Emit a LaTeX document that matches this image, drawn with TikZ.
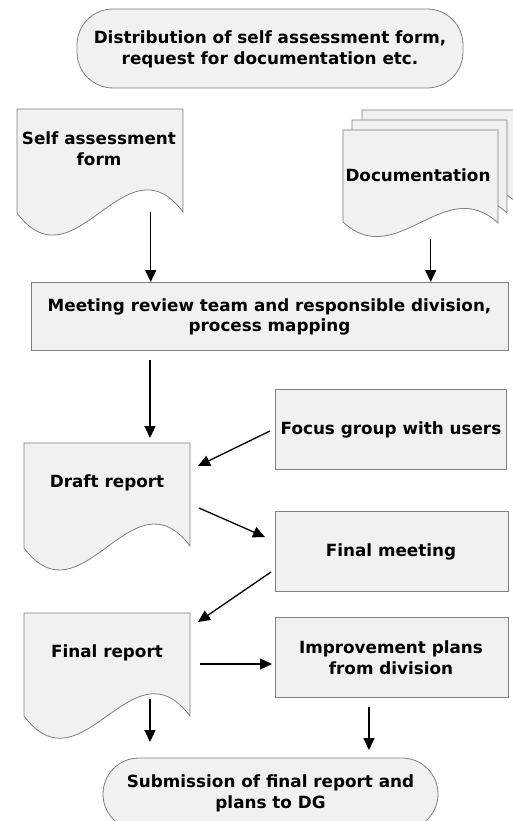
\documentclass[tikz,border=0pt]{standalone}
\usepackage{fontspec}
\setmainfont{DejaVu Sans}
\usetikzlibrary{arrows.meta}
\definecolor{shapefill}{HTML}{F1F1F1}
\definecolor{shapeline}{HTML}{7F7F7F}
\tikzset{
  shapestyle/.style={fill=shapefill, draw=shapeline, line width=0.8pt},
  box/.style={shapestyle, rectangle, inner sep=0pt},
  term/.style={shapestyle, rectangle, rounded corners=36pt, inner sep=0pt},
  lbl/.style={align=center, font=\fontsize{16.8}{20.8}\selectfont\bfseries, inner sep=0pt},
  flow/.style={line width=1.3pt, -{Triangle[length=12pt,width=11pt]}}
}
\begin{document}
\begin{tikzpicture}[x=1pt,y=-1pt]
\useasboundingbox (0,0) rectangle (513,821);
% top terminal
\node[term, minimum width=386pt, minimum height=79pt] (start) at (270,48.5) {};
\node[lbl] (starttext) at (270,49) {Distribution of self assessment form,\\request for documentation etc.};
% self assessment form (document)
\filldraw[shapestyle] (17,109) -- (183,109) -- (183,212) .. controls (125,135) and (75,290) .. (17,213) -- cycle;
\node[lbl] (self) at (99,149) {Self assessment\\form};
% documentation (multi-document)
\filldraw[shapestyle] (362,110) -- (517,110) -- (517,203) .. controls (463,153) and (416,252) .. (362,202) -- cycle;
\filldraw[shapestyle] (352,120) -- (507,120) -- (507,213) .. controls (453,163) and (406,262) .. (352,212) -- cycle;
\filldraw[shapestyle] (343,130) -- (498,130) -- (498,223) .. controls (444,173) and (397,272) .. (343,222) -- cycle;
\node[lbl] (doc) at (418,175) {Documentation};
% meeting
\node[box, minimum width=477pt, minimum height=68pt] (meet) at (269.5,316) {};
\node[lbl] (meettext) at (269.5,317) {Meeting review team and responsible division,\\process mapping};
% focus group
\node[box, minimum width=231pt, minimum height=80pt] (focus) at (390.5,429) {};
\node[lbl] (focustext) at (391,430) {Focus group with users};
% draft report
\filldraw[shapestyle] (24,443) -- (190,443) -- (190,546) .. controls (132,469) and (82,625) .. (24,548) -- cycle;
\node[lbl] (draft) at (107,483) {Draft report};
% final meeting
\node[box, minimum width=233pt, minimum height=80pt] (fmeet) at (391.5,551) {};
\node[lbl] (fmeettext) at (391,552) {Final meeting};
% final report
\filldraw[shapestyle] (24,613) -- (190,613) -- (190,716) .. controls (132,639) and (82,793) .. (24,716) -- cycle;
\node[lbl] (freport) at (107,653) {Final report};
% improvement plans
\node[box, minimum width=233pt, minimum height=80pt] (impr) at (391.5,657) {};
\node[lbl] (imprtext) at (391,658) {Improvement plans\\from division};
% bottom terminal
\node[term, minimum width=335pt, minimum height=72pt] (end) at (270.5,794) {};
\node[lbl] (endtext) at (270.5,793) {Submission of final report and\\plans to DG};
% connector end points
\coordinate (a1) at (150.7,212); \coordinate (b1) at (150.7,282);
\coordinate (a2) at (430.7,239); \coordinate (b2) at (430.7,282);
\coordinate (a3) at (150,360);   \coordinate (b3) at (150,438);
\coordinate (a4) at (270,431);   \coordinate (b4) at (198,466);
\coordinate (a5) at (199,508);   \coordinate (b5) at (265,537);
\coordinate (a6) at (271,572);   \coordinate (b6) at (198,622);
\coordinate (a7) at (200,664);   \coordinate (b7) at (272,664);
\coordinate (a8) at (150,699);   \coordinate (b8) at (150,742);
\coordinate (a9) at (369,707);   \coordinate (b9) at (369,750);
\foreach \i in {1,...,9} { \draw[flow] (a\i) -- (b\i); }
\end{tikzpicture}
\end{document}
